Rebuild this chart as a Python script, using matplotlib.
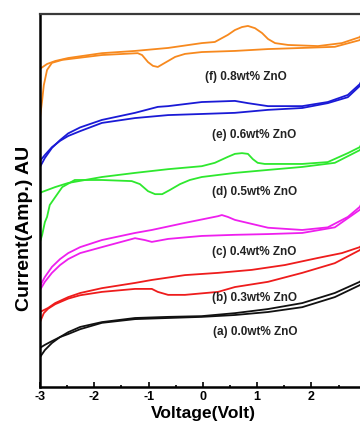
"""
plot.py - cyclic voltammograms of the ZnO-loaded films, stacked and offset.
Writes out.png.
"""

import numpy as np
import matplotlib
matplotlib.use("Agg")
import matplotlib.pyplot as plt

plt.rcParams["font.family"] = ["Liberation Sans", "DejaVu Sans"]
plt.rcParams["font.weight"] = "bold"
plt.rcParams["axes.labelweight"] = "bold"

# each loop: two branches (voltage in V, current in arbitrary units, offset)
f_up_v = [-3.00, -2.87, -2.72, -2.48, -1.86, -1.25, -0.64, -0.02, 0.22, 0.46, 0.59, 0.72, 0.83, 0.96, 1.09, 1.20, 1.33, 1.57, 2.12, 2.56, 2.89, 2.95]
f_up_i = [8.53, 8.66, 8.74, 8.82, 8.95, 9.01, 9.09, 9.22, 9.25, 9.44, 9.57, 9.65, 9.68, 9.62, 9.49, 9.33, 9.22, 9.17, 9.14, 9.22, 9.38, 9.50]
f_lo_v = [-3.00, -2.96, -2.93, -2.87, -2.78, -2.59, -1.86, -1.20, -1.12, -1.01, -0.92, -0.83, -0.70, -0.51, -0.33, -0.02, 0.59, 1.20, 1.83, 2.43, 2.89, 2.95]
f_lo_i = [7.21, 7.69, 8.09, 8.50, 8.69, 8.77, 8.90, 8.95, 8.90, 8.71, 8.61, 8.58, 8.69, 8.85, 8.93, 8.98, 9.01, 9.06, 9.09, 9.12, 9.30, 9.45]

e_up_v = [-3.00, -2.91, -2.78, -2.63, -2.48, -2.26, -1.86, -1.25, -0.83, -0.64, -0.02, 0.59, 0.83, 1.20, 1.83, 2.30, 2.67, 2.89, 2.95]
e_up_i = [5.90, 6.14, 6.41, 6.62, 6.80, 6.96, 7.16, 7.35, 7.51, 7.53, 7.64, 7.67, 7.61, 7.53, 7.53, 7.64, 7.83, 8.12, 8.30]
e_lo_v = [-3.00, -2.91, -2.78, -2.63, -2.48, -2.26, -1.86, -1.25, -0.64, -0.02, 0.59, 1.20, 1.83, 2.30, 2.67, 2.89, 2.95]
e_lo_i = [6.06, 6.22, 6.43, 6.60, 6.73, 6.86, 7.08, 7.21, 7.29, 7.32, 7.35, 7.43, 7.48, 7.61, 7.77, 8.07, 8.25]

d_up_v = [-3.00, -2.96, -2.72, -2.48, -2.17, -1.86, -1.25, -0.64, -0.02, 0.22, 0.46, 0.59, 0.72, 0.83, 0.92, 1.01, 1.14, 1.83, 2.30, 2.67, 2.89, 2.95]
d_up_i = [5.20, 5.23, 5.36, 5.47, 5.55, 5.63, 5.74, 5.84, 5.92, 6.01, 6.17, 6.25, 6.27, 6.25, 6.11, 6.01, 5.98, 5.98, 6.03, 6.27, 6.43, 6.60]
d_lo_v = [-3.00, -2.96, -2.91, -2.87, -2.85, -2.82, -2.72, -2.59, -2.36, -1.86, -1.31, -1.16, -1.01, -0.88, -0.75, -0.61, -0.42, -0.24, -0.02, 0.59, 1.20, 1.83, 2.43, 2.89, 2.95]
d_lo_i = [3.89, 4.08, 4.42, 4.56, 4.69, 4.88, 5.09, 5.36, 5.55, 5.55, 5.52, 5.44, 5.25, 5.17, 5.17, 5.28, 5.44, 5.55, 5.63, 5.74, 5.82, 5.90, 6.01, 6.35, 6.50]

c_up_v = [-3.00, -2.91, -2.78, -2.63, -2.48, -2.26, -1.86, -1.25, -0.94, -0.33, 0.28, 0.35, 0.46, 0.59, 1.20, 1.83, 2.30, 2.67, 2.89, 2.95]
c_up_i = [2.71, 2.95, 3.22, 3.43, 3.59, 3.75, 3.94, 4.13, 4.21, 4.40, 4.58, 4.61, 4.56, 4.48, 4.27, 4.21, 4.28, 4.56, 4.83, 5.00]
c_lo_v = [-3.00, -2.91, -2.78, -2.63, -2.48, -2.26, -1.86, -1.25, -1.07, -0.94, -0.64, -0.02, 0.59, 1.20, 1.83, 2.43, 2.89, 2.95]
c_lo_i = [2.60, 2.82, 3.06, 3.27, 3.43, 3.59, 3.75, 3.99, 3.94, 3.89, 3.97, 4.05, 4.08, 4.10, 4.13, 4.28, 4.75, 4.90]

b_up_v = [-3.00, -2.85, -2.72, -2.48, -2.26, -1.86, -1.25, -0.94, -0.33, 0.28, 0.90, 1.51, 2.12, 2.56, 2.89, 2.95]
b_up_i = [2.01, 2.12, 2.25, 2.41, 2.52, 2.65, 2.79, 2.87, 3.00, 3.06, 3.14, 3.27, 3.46, 3.59, 3.75, 3.85]
b_lo_v = [-3.00, -2.93, -2.85, -2.72, -2.48, -2.26, -1.86, -1.25, -0.94, -0.83, -0.64, -0.33, 0.28, 0.59, 1.20, 1.83, 2.43, 2.89, 2.95]
b_lo_i = [1.74, 1.98, 2.10, 2.22, 2.37, 2.46, 2.55, 2.63, 2.63, 2.55, 2.47, 2.47, 2.55, 2.68, 2.82, 3.06, 3.32, 3.67, 3.80]

a_up_v = [-3.00, -2.91, -2.78, -2.63, -2.48, -2.26, -1.86, -1.25, -0.64, -0.02, 0.59, 1.20, 1.83, 2.43, 2.89, 2.95]
a_up_i = [0.80, 0.99, 1.18, 1.34, 1.47, 1.61, 1.74, 1.85, 1.88, 1.90, 1.98, 2.09, 2.25, 2.52, 2.82, 2.90]
a_lo_v = [-3.00, -2.91, -2.78, -2.63, -2.48, -2.26, -1.86, -1.25, -0.64, -0.02, 0.59, 1.20, 1.83, 2.43, 2.89, 2.95]
a_lo_i = [1.05, 1.13, 1.23, 1.34, 1.42, 1.55, 1.72, 1.82, 1.85, 1.88, 1.93, 2.01, 2.14, 2.41, 2.73, 2.80]

labels = ["(f) 0.8wt% ZnO", "(e) 0.6wt% ZnO", "(d) 0.5wt% ZnO",
          "(c) 0.4wt% ZnO", "(b) 0.3wt% ZnO", "(a) 0.0wt% ZnO"]
label_v = [0.04, 0.17, 0.17, 0.17, 0.17, 0.19]
label_i = [8.31, 6.76, 5.23, 3.62, 2.39, 1.47]

tick_v = [-3, -2, -1, 0, 1, 2]

curves = [
    ((f_up_v, f_up_i), (f_lo_v, f_lo_i), "#f7891e"),
    ((e_up_v, e_up_i), (e_lo_v, e_lo_i), "#1a1ad6"),
    ((d_up_v, d_up_i), (d_lo_v, d_lo_i), "#2ee82e"),
    ((c_up_v, c_up_i), (c_lo_v, c_lo_i), "#ee1fee"),
    ((b_up_v, b_up_i), (b_lo_v, b_lo_i), "#ee1c1c"),
    ((a_up_v, a_up_i), (a_lo_v, a_lo_i), "#111111"),
]

fig = plt.figure(figsize=(3.6, 4.23), dpi=100)
# the frame runs past the right edge of the figure, so no right spine
ax = fig.add_axes([0.1111, 0.0851, 0.935, 0.8818])

for up, lo, col in curves:
    ax.plot(up[0], up[1], color=col, lw=1.3, solid_joinstyle="round")
    ax.plot(lo[0], lo[1], color=col, lw=1.3, solid_joinstyle="round")

for txt, v, i in zip(labels, label_v, label_i):
    ax.text(v, i, txt, fontsize=8.5, fontweight="bold", color="#222222",
            ha="left", va="center")

ax.set_xlim(-3, 3.2)
ax.set_ylim(0, 10)
ax.set_xticks(tick_v)
ax.set_xticklabels([str(t) for t in tick_v], fontweight="bold")
ax.set_xticks(np.arange(-3, 3.5, 0.5), minor=True)
ax.set_yticks([])
ax.tick_params(axis="x", which="major", direction="in", length=3.5, width=1.2,
               labelsize=9, pad=3)
ax.tick_params(axis="x", which="minor", direction="in", length=1.8, width=1.2)
ax.spines["left"].set_linewidth(1.8)
ax.spines["bottom"].set_linewidth(1.8)
ax.spines["top"].set_linewidth(1.6)
ax.spines["top"].set_color("#3a3a3a")
ax.spines["right"].set_visible(False)

ax.set_xlabel("Voltage(Volt)", fontsize=12.5, fontweight="bold")
ax.set_ylabel("Current(Amp.) AU", fontsize=14, fontweight="bold")
ax.xaxis.set_label_coords(0.486, -0.070)
ax.yaxis.set_label_coords(-0.045, 0.426)
ax.xaxis.label.set_va("center")
ax.yaxis.label.set_va("center")

fig.savefig("out.png", dpi=100)
print("out.png")
